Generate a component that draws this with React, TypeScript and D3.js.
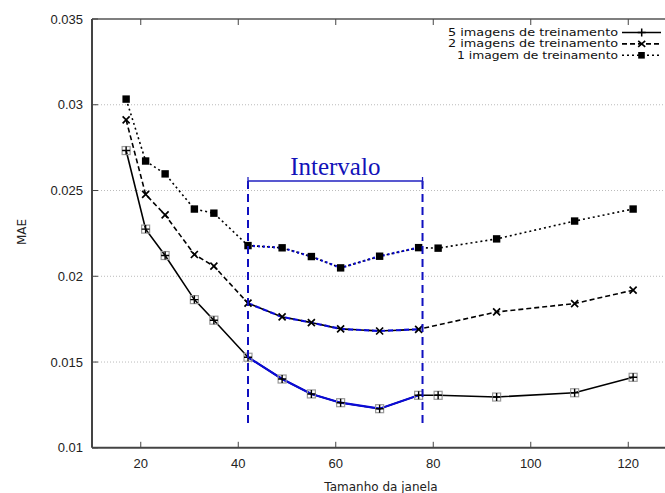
import React from "react";
import * as d3 from "d3";

const xTicks = [20, 40, 60, 80, 100, 120];
const yTicks = [0.01, 0.015, 0.02, 0.025, 0.03, 0.035];

const xFive = [17, 21, 25, 31, 35, 42, 49, 55, 61, 69, 77, 81, 93, 109, 121];
const yFive = [0.02733, 0.02275, 0.02121, 0.01864, 0.01744, 0.01528, 0.01401, 0.01314, 0.01263, 0.01228, 0.01306, 0.01306, 0.01296, 0.01321, 0.01411];

const xTwo = [17, 21, 25, 31, 35, 42, 49, 55, 61, 69, 77, 93, 109, 121];
const yTwo = [0.02912, 0.02477, 0.02358, 0.02127, 0.02059, 0.01843, 0.01763, 0.0173, 0.01693, 0.01681, 0.01691, 0.01792, 0.01841, 0.01919];

const xOne = [17, 21, 25, 31, 35, 42, 49, 55, 61, 69, 77, 81, 93, 109, 121];
const yOne = [0.03033, 0.02672, 0.02597, 0.02392, 0.02368, 0.02179, 0.02166, 0.02115, 0.02049, 0.02117, 0.02167, 0.02164, 0.02218, 0.02322, 0.02392];

const intervalo = [42, 77.8];
const legendLabels = ["5 imagens de treinamento", "2 imagens de treinamento", "1 imagem de treinamento"];

type Pt = { x: number; y: number };
const zip = (xs: number[], ys: number[]): Pt[] => xs.map((x, i) => ({ x, y: ys[i] }));

const BLUE = "#0a0ad8";

const App: React.FC = () => {
  const width = 665;
  const height = 493;
  const margin = { left: 92, top: 19 };
  const x = d3.scaleLinear().domain([10, 130]).range([margin.left, margin.left + 120 * 4.875]);
  const y = d3.scaleLinear().domain([0.01, 0.035]).range([447.8, margin.top]);

  const line = d3.line<Pt>().x(d => x(d.x)).y(d => y(d.y));

  const series = [
    { pts: zip(xFive, yFive), dash: undefined as string | undefined, marker: "plus" },
    { pts: zip(xTwo, yTwo), dash: "5 3", marker: "cross" },
    { pts: zip(xOne, yOne), dash: "2 3", marker: "square" },
  ];

  const inInterval = (p: Pt) => p.x >= intervalo[0] && p.x <= intervalo[1];

  const marker = (type: string, cx: number, cy: number, key: string) => {
    if (type === "plus") {
      return (
        <g key={key}>
          <rect x={cx - 4} y={cy - 4} width={8} height={8} fill="none" stroke="#999" strokeWidth={1.2} />
          <path d={`M${cx - 4},${cy}H${cx + 4}M${cx},${cy - 4}V${cy + 4}`} stroke="#000" strokeWidth={1.4} />
        </g>
      );
    }
    if (type === "cross") {
      return (
        <path key={key} d={`M${cx - 3.5},${cy - 3.5}L${cx + 3.5},${cy + 3.5}M${cx - 3.5},${cy + 3.5}L${cx + 3.5},${cy - 3.5}`} stroke="#000" strokeWidth={1.7} />
      );
    }
    return <rect key={key} x={cx - 3.7} y={cy - 3.7} width={7.4} height={7.4} fill="#000" />;
  };

  const x0 = x(intervalo[0]);
  const x1 = x(intervalo[1]);
  const bracketY = 181;

  return (
    <svg width={width} height={height} style={{ position: "absolute", left: 0, top: 0 }}>
      <rect width={width} height={height} fill="#fff" />
      {/* grid */}
      {yTicks.slice(1, -1).map(t => (
        <line key={t} x1={margin.left} x2={width} y1={y(t)} y2={y(t)} stroke="#bbb" strokeWidth={1} strokeDasharray="1 2" />
      ))}
      {/* frame */}
      <line x1={margin.left} x2={width} y1={margin.top} y2={margin.top} stroke="#555" strokeWidth={1.5} />
      <line x1={margin.left} x2={width} y1={y(0.01)} y2={y(0.01)} stroke="#444" strokeWidth={2} />
      <line x1={margin.left} x2={margin.left} y1={margin.top} y2={y(0.01)} stroke="#444" strokeWidth={2} />
      {xTicks.map(t => (
        <g key={t}>
          <line x1={x(t)} x2={x(t)} y1={y(0.01)} y2={y(0.01) - 6} stroke="#444" strokeWidth={1} />
          <line x1={x(t)} x2={x(t)} y1={margin.top} y2={margin.top + 6} stroke="#444" strokeWidth={1} />
          <text x={x(t)} y={y(0.01) + 20} textAnchor="middle" fontFamily="Liberation Sans, Arial, sans-serif" fontSize={13} fill="#222">{t}</text>
        </g>
      ))}
      {yTicks.map(t => (
        <g key={t}>
          <line x1={margin.left} x2={margin.left + 6} y1={y(t)} y2={y(t)} stroke="#444" strokeWidth={1} />
          <text x={83} y={y(t) + 4.5} textAnchor="end" fontFamily="Liberation Sans, Arial, sans-serif" fontSize={13} fill="#222">{d3.format("")(t)}</text>
        </g>
      ))}
      <text transform={`translate(26,232) rotate(-90)`} textAnchor="middle" fontFamily="DejaVu Sans, sans-serif" fontSize={12} fill="#222">MAE</text>
      <text x={381} y={491} textAnchor="middle" fontFamily="DejaVu Sans, sans-serif" fontSize={12} fill="#222">Tamanho da janela</text>

      {/* series */}
      {series.map((s, i) => (
        <path key={`l${i}`} d={line(s.pts) || ""} fill="none" stroke="#000" strokeWidth={1.6} strokeDasharray={s.dash} />
      ))}
      {series.map((s, i) => (
        <path key={`b${i}`} d={line(s.pts.filter(inInterval)) || ""} fill="none" stroke={BLUE} strokeWidth={2.2} strokeDasharray={s.dash} />
      ))}
      {series.map((s, i) => s.pts.map((p, j) => marker(s.marker, x(p.x), y(p.y), `m${i}-${j}`)))}

      {/* intervalo */}
      {[x0, x1].map((xv, i) => (
        <line key={i} x1={xv} x2={xv} y1={bracketY} y2={423} stroke="#1010c0" strokeWidth={2} strokeDasharray="8 5" />
      ))}
      <line x1={x0} x2={x1} y1={bracketY} y2={bracketY} stroke="#2020c0" strokeWidth={1.3} />
      <line x1={x0} x2={x0} y1={bracketY - 4} y2={bracketY + 4} stroke="#2020c0" strokeWidth={1.3} />
      <line x1={x1} x2={x1} y1={bracketY - 4} y2={bracketY + 4} stroke="#2020c0" strokeWidth={1.3} />
      <text x={(x0 + x1) / 2} y={175} textAnchor="middle" fontFamily="Liberation Serif, Times New Roman, serif" fontSize={25} fill="#1212b8">Intervalo</text>

      {/* legend */}
      {series.map((s, i) => {
        const ly = 32.5 + i * 11.4;
        return (
          <g key={`lg${i}`}>
            <text x={618} y={ly + 3.5} textAnchor="end" fontFamily="DejaVu Sans, sans-serif" fontSize={10.5} textLength={i === 2 ? 161 : 170} lengthAdjust="spacingAndGlyphs" fill="#111">{legendLabels[i]}</text>
            <line x1={622} x2={661} y1={ly} y2={ly} stroke="#000" strokeWidth={1.6} strokeDasharray={s.dash} />
            {s.marker === "plus" ? (
              <path d={`M${641.7 - 4},${ly}H${641.7 + 4}M${641.7},${ly - 4}V${ly + 4}`} stroke="#000" strokeWidth={1.5} />
            ) : s.marker === "cross" ? (
              <path d={`M${638.2},${ly - 3}L${645.2},${ly + 3}M${638.2},${ly + 3}L${645.2},${ly - 3}`} stroke="#000" strokeWidth={1.7} />
            ) : (
              <rect x={638.2} y={ly - 3.3} width={6.6} height={6.6} fill="#000" />
            )}
          </g>
        );
      })}
    </svg>
  );
};

export default App;
